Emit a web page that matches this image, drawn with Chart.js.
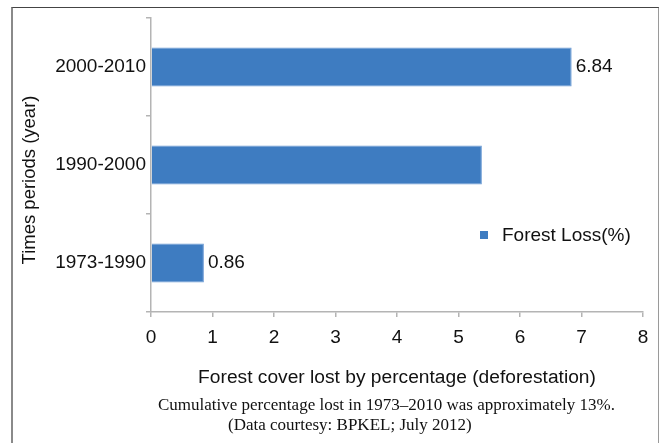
<!DOCTYPE html>
<html>
<head>
<meta charset="utf-8">
<script src="https://cdn.jsdelivr.net/npm/chart.js@4"></script>
<style>
  html, body { margin: 0; padding: 0; background: #fff; }
  #wrap { position: relative; width: 659px; height: 443px; overflow: hidden; }
  #frame {
    position: absolute; left: 11px; top: 7px; width: 645px; height: 460px;
    border-left: 2px solid #8a8a8a; border-top: 1px solid #444; border-right: 2px solid #9a9a9a;
  }
  canvas { position: absolute; left: 0; top: 0; }
  .cap {
    position: absolute; font-family: "Liberation Serif", "Times New Roman", serif;
    font-size: 17px; color: #111; white-space: nowrap;
  }
</style>
</head>
<body>
<div id="wrap">
  <div id="frame"></div>
  <canvas id="chart" width="659" height="443"></canvas>
  <div class="cap" id="cap1" style="left:158px; top:395px;">Cumulative percentage lost in 1973–2010 was approximately 13%.</div>
  <div class="cap" id="cap2" style="left:228px; top:415px;">(Data courtesy: BPKEL; July 2012)</div>
</div>
<script>
// periods, oldest first (drawn bottom to top)
const periods = ['1973-1990', '1990-2000', '2000-2010'];
const forestLoss = [0.86, 5.38, 6.84];
const showValue = [true, false, true];
const xTicks = [0, 1, 2, 3, 4, 5, 6, 7, 8];

const FONT = "'Liberation Sans', Arial, sans-serif";
const axisGray = '#b4b4b4';

// value labels at bar ends + legend + y title
const extras = {
  id: 'extras',
  afterDatasetsDraw(chart) {
    const ctx = chart.ctx;
    const meta = chart.getDatasetMeta(0);
    ctx.save();
    ctx.font = '19px ' + FONT;
    ctx.fillStyle = '#111';
    ctx.textBaseline = 'middle';
    ctx.textAlign = 'left';
    meta.data.forEach((bar, i) => {
      if (!showValue[i]) return;
      ctx.fillText(forestLoss[i].toFixed(2), bar.x + 4, bar.y);
    });

    // legend
    const ds = chart.data.datasets[0];
    ctx.fillStyle = ds.backgroundColor;
    ctx.fillRect(480, 231, 8, 8);
    ctx.fillStyle = '#111';
    ctx.fillText(ds.label, 502, 236);

    // y axis title
    ctx.translate(30, 180);
    ctx.rotate(-Math.PI / 2);
    ctx.textAlign = 'center';
    ctx.font = '18.5px ' + FONT;
    ctx.fillText('Times periods (year)', 0, 0);
    ctx.restore();
  }
};

new Chart(document.getElementById('chart').getContext('2d'), {
  type: 'bar',
  data: {
    labels: periods,
    datasets: [{
      label: 'Forest Loss(%)',
      data: forestLoss,
      backgroundColor: '#3e7cc1',
      borderColor: '#6b9ad4',
      borderWidth: 1,
      barPercentage: 0.4,
      categoryPercentage: 1
    }]
  },
  options: {
    indexAxis: 'y',
    responsive: false,
    animation: false,
    layout: { padding: { top: 18, right: 16, left: 0, bottom: 0 } },
    plugins: { legend: { display: false }, tooltip: { enabled: false } },
    scales: {
      x: {
        min: 0, max: 8,
        afterFit(scale) { scale.height = 131; },
        afterBuildTicks(scale) { scale.ticks = xTicks.map(v => ({ value: v })); },
        grid: { drawOnChartArea: false, drawTicks: true, tickLength: 5, color: axisGray, lineWidth: 1.5 },
        border: { color: axisGray, width: 1.5 },
        ticks: { color: '#111', font: { family: FONT, size: 19 }, padding: 9 },
        title: {
          display: true,
          text: 'Forest cover lost by percentage (deforestation)',
          color: '#111',
          font: { family: FONT, size: 19.2 },
          padding: { top: 0, bottom: 54 }
        }
      },
      y: {
        reverse: true,
        afterFit(scale) { scale.width = 151; },
        grid: { drawOnChartArea: false, drawTicks: true, tickLength: 5, color: axisGray, lineWidth: 1.5 },
        border: { color: axisGray, width: 1.5 },
        ticks: { color: '#111', font: { family: FONT, size: 19 }, padding: 0 }
      }
    }
  },
  plugins: [extras]
});
</script>
</body>
</html>
